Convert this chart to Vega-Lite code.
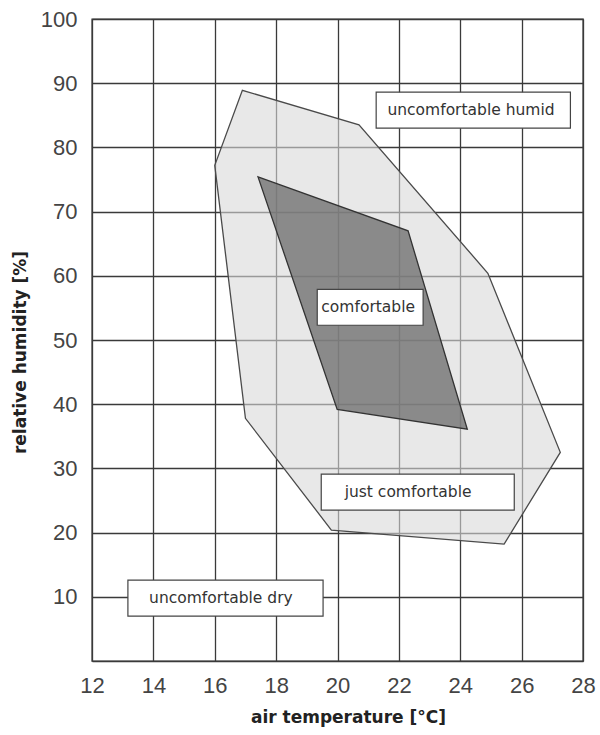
{
  "$schema": "https://vega.github.io/schema/vega-lite/v6.json",
  "autosize": "none",
  "width": 491,
  "height": 642,
  "padding": {"left": 92, "top": 19, "right": 17, "bottom": 74},
  "background": "white",
  "config": {
    "view": {"stroke": "#3a3a3a", "strokeWidth": 1.4},
    "axis": {
      "grid": true,
      "gridColor": "#3a3a3a",
      "gridWidth": 1.3,
      "gridOpacity": 1,
      "domain": false,
      "ticks": false,
      "labelFlush": false,
      "labelFont": "Liberation Sans",
      "labelFontSize": 22,
      "labelColor": "#444",
      "titleFont": "DejaVu Sans",
      "titleFontSize": 17,
      "titleFontWeight": "bold",
      "titleColor": "#222"
    }
  },
  "datasets": {
    "polys": [
      {"zone": "just comfortable", "i": 1, "t": 16.0, "h": 77.2},
      {"zone": "just comfortable", "i": 2, "t": 16.9, "h": 88.9},
      {"zone": "just comfortable", "i": 3, "t": 20.7, "h": 83.5},
      {"zone": "just comfortable", "i": 4, "t": 24.9, "h": 60.4},
      {"zone": "just comfortable", "i": 5, "t": 27.26, "h": 32.5},
      {"zone": "just comfortable", "i": 6, "t": 25.43, "h": 18.2},
      {"zone": "just comfortable", "i": 7, "t": 19.8, "h": 20.4},
      {"zone": "just comfortable", "i": 8, "t": 17.0, "h": 37.8},
      {"zone": "comfortable", "i": 1, "t": 17.41, "h": 75.4},
      {"zone": "comfortable", "i": 2, "t": 22.3, "h": 67.0},
      {"zone": "comfortable", "i": 3, "t": 24.23, "h": 36.1},
      {"zone": "comfortable", "i": 4, "t": 19.99, "h": 39.2}
    ],
    "labels": [
      {"label": "uncomfortable humid", "t": 24.35, "h": 85.8, "t1": 21.26, "t2": 27.59, "h1": 83.0, "h2": 88.6},
      {"label": "comfortable", "t": 21.0, "h": 55.1, "t1": 19.34, "t2": 22.79, "h1": 52.3, "h2": 57.9},
      {"label": "just comfortable", "t": 22.3, "h": 26.3, "t1": 19.47, "t2": 25.76, "h1": 23.5, "h2": 29.1},
      {"label": "uncomfortable dry", "t": 16.2, "h": 9.8, "t1": 13.17, "t2": 19.53, "h1": 7.0, "h2": 12.6}
    ]
  },
  "layer": [
    {
      "data": {"name": "polys"},
      "transform": [{"filter": "datum.zone == 'just comfortable'"}],
      "mark": {"type": "line", "interpolate": "linear-closed", "fill": "#d8d8d8", "fillOpacity": 0.6, "stroke": "#4a4a4a", "strokeWidth": 1.3},
      "encoding": {
        "x": {"field": "t", "type": "quantitative", "scale": {"domain": [12, 28], "nice": false, "zero": false},
              "axis": {"values": [12, 14, 16, 18, 20, 22, 24, 26, 28], "title": "air temperature [°C]", "labelPadding": 14, "titlePadding": 13, "titleX": 256}},
        "y": {"field": "h", "type": "quantitative", "scale": {"domain": [0, 100], "nice": false},
              "axis": {"values": [0, 10, 20, 30, 40, 50, 60, 70, 80, 90, 100], "labelExpr": "datum.value == 0 ? '' : datum.label", "title": "relative humidity [%]", "labelPadding": 15, "titlePadding": 11, "titleY": 333}},
        "order": {"field": "i", "type": "quantitative"}
      }
    },
    {
      "data": {"name": "polys"},
      "transform": [{"filter": "datum.zone == 'comfortable'"}],
      "mark": {"type": "line", "interpolate": "linear-closed", "fill": "#727272", "fillOpacity": 0.8, "stroke": "#333", "strokeWidth": 1.3},
      "encoding": {
        "x": {"field": "t", "type": "quantitative"},
        "y": {"field": "h", "type": "quantitative"},
        "order": {"field": "i", "type": "quantitative"}
      }
    },
    {
      "data": {"name": "labels"},
      "mark": {"type": "rect", "fill": "white", "stroke": "#444", "strokeWidth": 1.2},
      "encoding": {
        "x": {"field": "t1", "type": "quantitative"},
        "x2": {"field": "t2"},
        "y": {"field": "h1", "type": "quantitative"},
        "y2": {"field": "h2"}
      }
    },
    {
      "data": {"name": "labels"},
      "mark": {"type": "text", "font": "DejaVu Sans", "fontSize": 15.5, "color": "#333"},
      "encoding": {
        "x": {"field": "t", "type": "quantitative"},
        "y": {"field": "h", "type": "quantitative"},
        "text": {"field": "label"}
      }
    }
  ]
}
